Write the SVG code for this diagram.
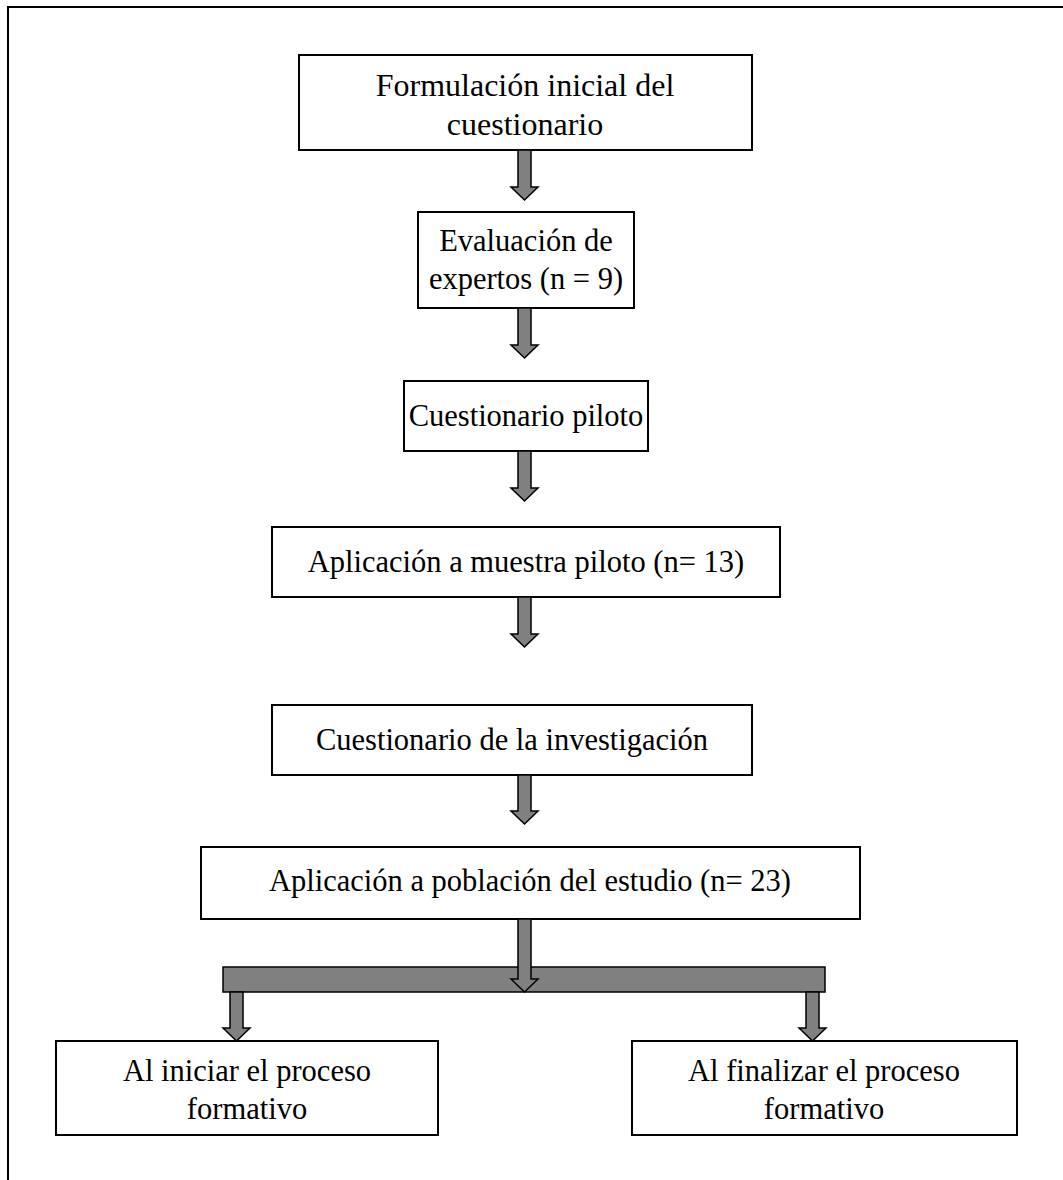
<svg xmlns="http://www.w3.org/2000/svg" width="1063" height="1180" viewBox="0 0 1063 1180">
<style>
.box{fill:#fff;stroke:#000;stroke-width:2}
.arr{fill:#808080;stroke:#000;stroke-width:1.5;stroke-linejoin:miter}
text{font-family:"Liberation Serif","Times New Roman",serif;font-size:30.5px;fill:#000;text-anchor:middle}
.big{font-size:32px}
</style>
<rect width="1063" height="1180" fill="#fff"/>
<path d="M8,1180 V7 H1063" fill="none" stroke="#000" stroke-width="2"/>
<g id="n1"><rect class="box" x="299" y="55" width="453" height="95"/><text class="big" x="525" y="96">Formulación inicial del</text><text class="big" x="525" y="135">cuestionario</text></g>
<g id="n2"><rect class="box" x="418" y="212" width="216" height="96"/><text x="526" y="251">Evaluación de</text><text x="526" y="289">expertos (n = 9)</text></g>
<g id="n3"><rect class="box" x="404" y="381" width="244" height="70"/><text x="526" y="426">Cuestionario piloto</text></g>
<g id="n4"><rect class="box" x="272" y="527" width="508" height="70"/><text x="526" y="572">Aplicación a muestra piloto (n= 13)</text></g>
<g id="n5"><rect class="box" x="272" y="705" width="480" height="70"/><text x="512" y="750">Cuestionario de la investigación</text></g>
<g id="n6"><rect class="box" x="201" y="847" width="659" height="72"/><text x="530" y="891">Aplicación a población del estudio (n= 23)</text></g>
<g id="n7"><rect class="box" x="56" y="1041" width="382" height="94"/><text x="247" y="1081">Al iniciar el proceso</text><text x="247" y="1119">formativo</text></g>
<g id="n8"><rect class="box" x="632" y="1041" width="385" height="94"/><text x="824" y="1081">Al finalizar el proceso</text><text x="824" y="1119">formativo</text></g>
<g id="connectors">
<path class="arr" d="M518,150 H531 V187 H538 L524.5,200 L511,187 H518 Z"/>
<path class="arr" d="M518,308 H531 V345 H538 L524.5,358 L511,345 H518 Z"/>
<path class="arr" d="M518,451 H531 V488 H538 L524.5,501 L511,488 H518 Z"/>
<path class="arr" d="M518,597 H531 V634 H538 L524.5,647 L511,634 H518 Z"/>
<path class="arr" d="M518,775 H531 V811 H538 L524.5,824 L511,811 H518 Z"/>
<rect class="arr" x="223" y="967" width="602" height="25"/>
<path class="arr" d="M518,919 H531 V979 H538 L524.5,992 L511,979 H518 Z"/>
<path class="arr" d="M230,992 H243 V1028 H250 L236.5,1041 L223,1028 H230 Z"/>
<path class="arr" d="M806,992 H819 V1028 H826 L812.5,1041 L799,1028 H806 Z"/>
</g>
</svg>
